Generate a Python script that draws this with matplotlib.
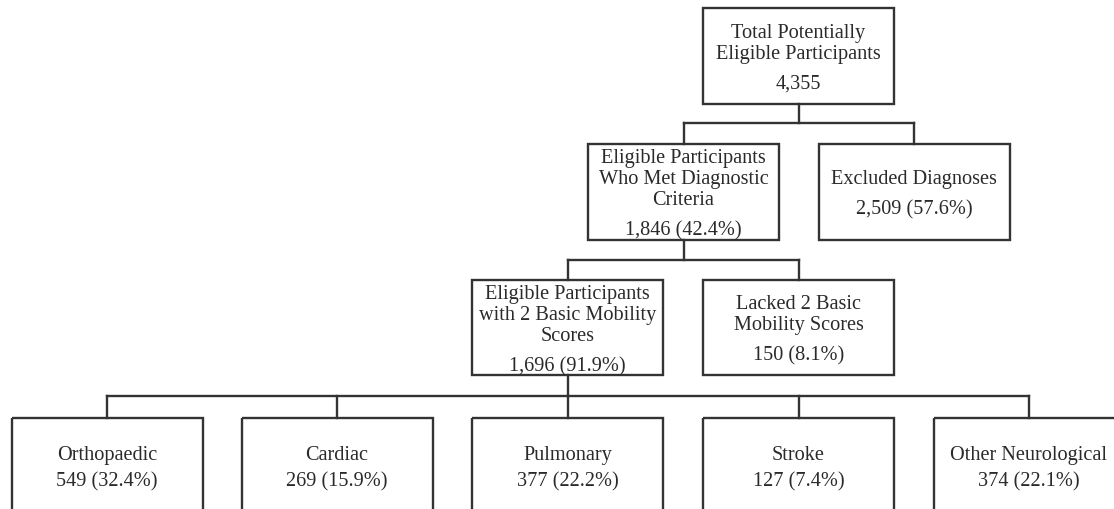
import matplotlib
matplotlib.use("Agg")
import matplotlib.pyplot as plt
from matplotlib.patches import Rectangle

# ---------------- data ----------------
top_label = "Total Potentially\nEligible Participants"
top_count = 4355

level1_labels = ["Eligible Participants\nWho Met Diagnostic\nCriteria", "Excluded Diagnoses"]
level1_counts = [1846, 2509]
level1_pcts = [42.4, 57.6]

level2_labels = ["Eligible Participants\nwith 2 Basic Mobility\nScores", "Lacked 2 Basic\nMobility Scores"]
level2_counts = [1696, 150]
level2_pcts = [91.9, 8.1]

diag_labels = ["Orthopaedic", "Cardiac", "Pulmonary", "Stroke", "Other Neurological"]
diag_counts = [549, 269, 377, 127, 374]
diag_pcts = [32.4, 15.9, 22.2, 7.4, 22.1]

# ---------------- layout (pixels, y downward) ----------------
W, H = 1114, 510
BW = 191
LINE_C = "#333333"
TEXT_C = "#2a2a2a"
LW = 1.7
FONT = "Liberation Serif"
FS = 14.6
LINE_SP = 21
NUM_GAP = 30
TEXT_SHIFT = 2

fig = plt.figure(figsize=(W / 100, H / 100), dpi=100)
ax = fig.add_axes([0, 0, 1, 1])
ax.set_xlim(0, W)
ax.set_ylim(H, 0)
ax.axis("off")


def fmt(n, p=None):
    s = f"{n:,}"
    if p is not None:
        s += f" ({p:.1f}%)"
    return s


def box(cx, top, bottom, label, number, text_top=None):
    ax.add_patch(Rectangle((cx - BW / 2, top), BW, bottom - top, fill=False,
                           edgecolor=LINE_C, linewidth=LW, clip_on=True))
    lines = label.split("\n")
    n = len(lines)
    if text_top is None:
        block = (n - 1) * LINE_SP + NUM_GAP
        y0 = (top + bottom) / 2 - block / 2 + TEXT_SHIFT
        sp, gap = LINE_SP, NUM_GAP
    else:
        y0 = text_top
        sp, gap = LINE_SP, 26
    for i, ln in enumerate(lines):
        ax.text(cx, y0 + i * sp, ln, ha="center", va="center", fontsize=FS,
                family=FONT, color=TEXT_C)
    ax.text(cx, y0 + (n - 1) * sp + gap, number, ha="center", va="center",
            fontsize=FS, family=FONT, color=TEXT_C)


def connect(parent_x, parent_bottom, bar_y, child_xs, child_top):
    ax.plot([parent_x, parent_x], [parent_bottom, bar_y], color=LINE_C, lw=LW,
            solid_capstyle="projecting")
    ax.plot([min(child_xs + [parent_x]), max(child_xs + [parent_x])], [bar_y, bar_y],
            color=LINE_C, lw=LW, solid_capstyle="projecting")
    for cx in child_xs:
        ax.plot([cx, cx], [bar_y, child_top], color=LINE_C, lw=LW,
                solid_capstyle="projecting")


# level 0
top_cx = 798.5
box(top_cx, 9, 105, top_label, fmt(top_count))

# level 1
l1_x = [683.5, 914]
connect(top_cx, 105, 124, l1_x, 145)
for cx, lab, c, p in zip(l1_x, level1_labels, level1_counts, level1_pcts):
    box(cx, 145, 241, lab, fmt(c, p))

# level 2
l2_x = [567.5, 798.5]
connect(l1_x[0], 241, 261, l2_x, 281)
for cx, lab, c, p in zip(l2_x, level2_labels, level2_counts, level2_pcts):
    box(cx, 281, 376, lab, fmt(c, p))

# level 3
l3_x = [107, 337, 567.5, 798.5, 1029]
connect(l2_x[0], 376, 397, l3_x, 419)
for cx, lab, c, p in zip(l3_x, diag_labels, diag_counts, diag_pcts):
    box(cx, 419, 540, lab, fmt(c, p), text_top=456)

fig.savefig("out.png", dpi=100, facecolor="white")
